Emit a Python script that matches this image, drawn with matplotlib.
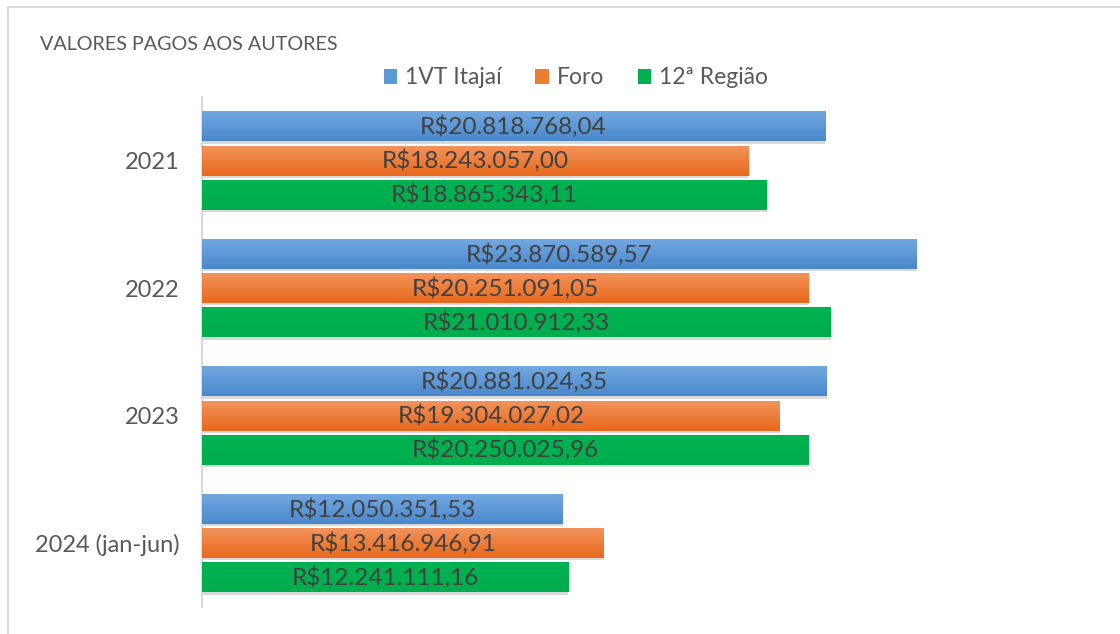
import numpy as np
import matplotlib
matplotlib.use("Agg")
import matplotlib.pyplot as plt
from matplotlib.colors import LinearSegmentedColormap
from matplotlib.patches import Patch
from matplotlib.lines import Line2D

plt.rcParams['font.family'] = ['Lato', 'DejaVu Sans']

categories = ["2021", "2022", "2023", "2024 (jan-jun)"]
series_names = ["1VT Itajaí", "Foro", "12ª Região"]
vt_itajai = [20818768.04, 23870589.57, 20881024.35, 12050351.53]
foro = [18243057.00, 20251091.05, 19304027.02, 13416946.91]
regiao12 = [18865343.11, 21010912.33, 20250025.96, 12241111.16]
title = "VALORES PAGOS AOS AUTORES"

series = [vt_itajai, foro, regiao12]
base_colors = ["#5b9bd5", "#ed7d31", "#00b050"]
grad_colors = [("#4a88cc", "#72a8e0"), ("#e8691c", "#f2935a"), ("#00ad4e", "#00b252")]

def brl(v):
    s = f"{v:,.2f}"
    s = s.replace(",", "X").replace(".", ",").replace("X", ".")
    return "R$" + s

fig = plt.figure(figsize=(11.2, 6.34), dpi=100)
ax = fig.add_axes([202/1120, 27/634, 868/1120, 510/634])

n = len(categories)
ypos = np.arange(n)[::-1] + 0.5
offsets = [0.268, 0.0, -0.268]
bh = 0.232
txt_color = "#404040"

for s, vals in enumerate(series):
    ys = ypos + offsets[s]
    ax.barh(ys - 0.018, vals, height=bh, left=0, color="#000000", alpha=0.15, zorder=1)
    bars = ax.barh(ys, vals, height=bh, color=base_colors[s], zorder=2)
    cmap = LinearSegmentedColormap.from_list("g%d" % s, list(grad_colors[s]))
    grad = np.linspace(0, 1, 64).reshape(-1, 1)
    for b, v in zip(bars, vals):
        x0, y0, w, h = b.get_x(), b.get_y(), b.get_width(), b.get_height()
        ax.imshow(grad, extent=[x0, x0 + w, y0, y0 + h], origin="lower",
                  cmap=cmap, aspect="auto", zorder=3, interpolation="bilinear")
        ax.text(x0 + w / 2, y0 + h / 2, brl(v), ha="center", va="center",
                fontsize=17.5, color=txt_color, zorder=5)

ax.set_xlim(0, 29.0e6)
ax.set_ylim(0, n)
ax.set_yticks(ypos)
ax.set_yticklabels(categories, fontsize=17, color="#595959")
ax.tick_params(axis="y", length=0, pad=16)
ax.set_xticks([])
for sp in ["top", "right", "bottom"]:
    ax.spines[sp].set_visible(False)
ax.spines["left"].set_color("#d9d9d9")
ax.spines["left"].set_linewidth(1.5)

fig.text(40/1120, 1 - 45/634, title, fontsize=14.2, color="#595959",
         fontweight="normal", ha="left", va="center")

handles = [Patch(facecolor=c, edgecolor="none") for c in base_colors]
fig.legend(handles, series_names, loc="center", bbox_to_anchor=(576/1120, 1 - 78/634),
           ncol=3, frameon=False, fontsize=16.5, labelcolor="#595959",
           handlelength=0.6, handleheight=0.6, handletextpad=0.35, columnspacing=1.45)

fig.add_artist(Line2D([8/1120, 1.0], [1 - 7/634, 1 - 7/634], transform=fig.transFigure,
                      color="#d9d9d9", linewidth=1.5))
fig.add_artist(Line2D([8/1120, 8/1120], [0, 1 - 7/634], transform=fig.transFigure,
                      color="#d9d9d9", linewidth=1.5))

fig.savefig("out.png", dpi=100)
